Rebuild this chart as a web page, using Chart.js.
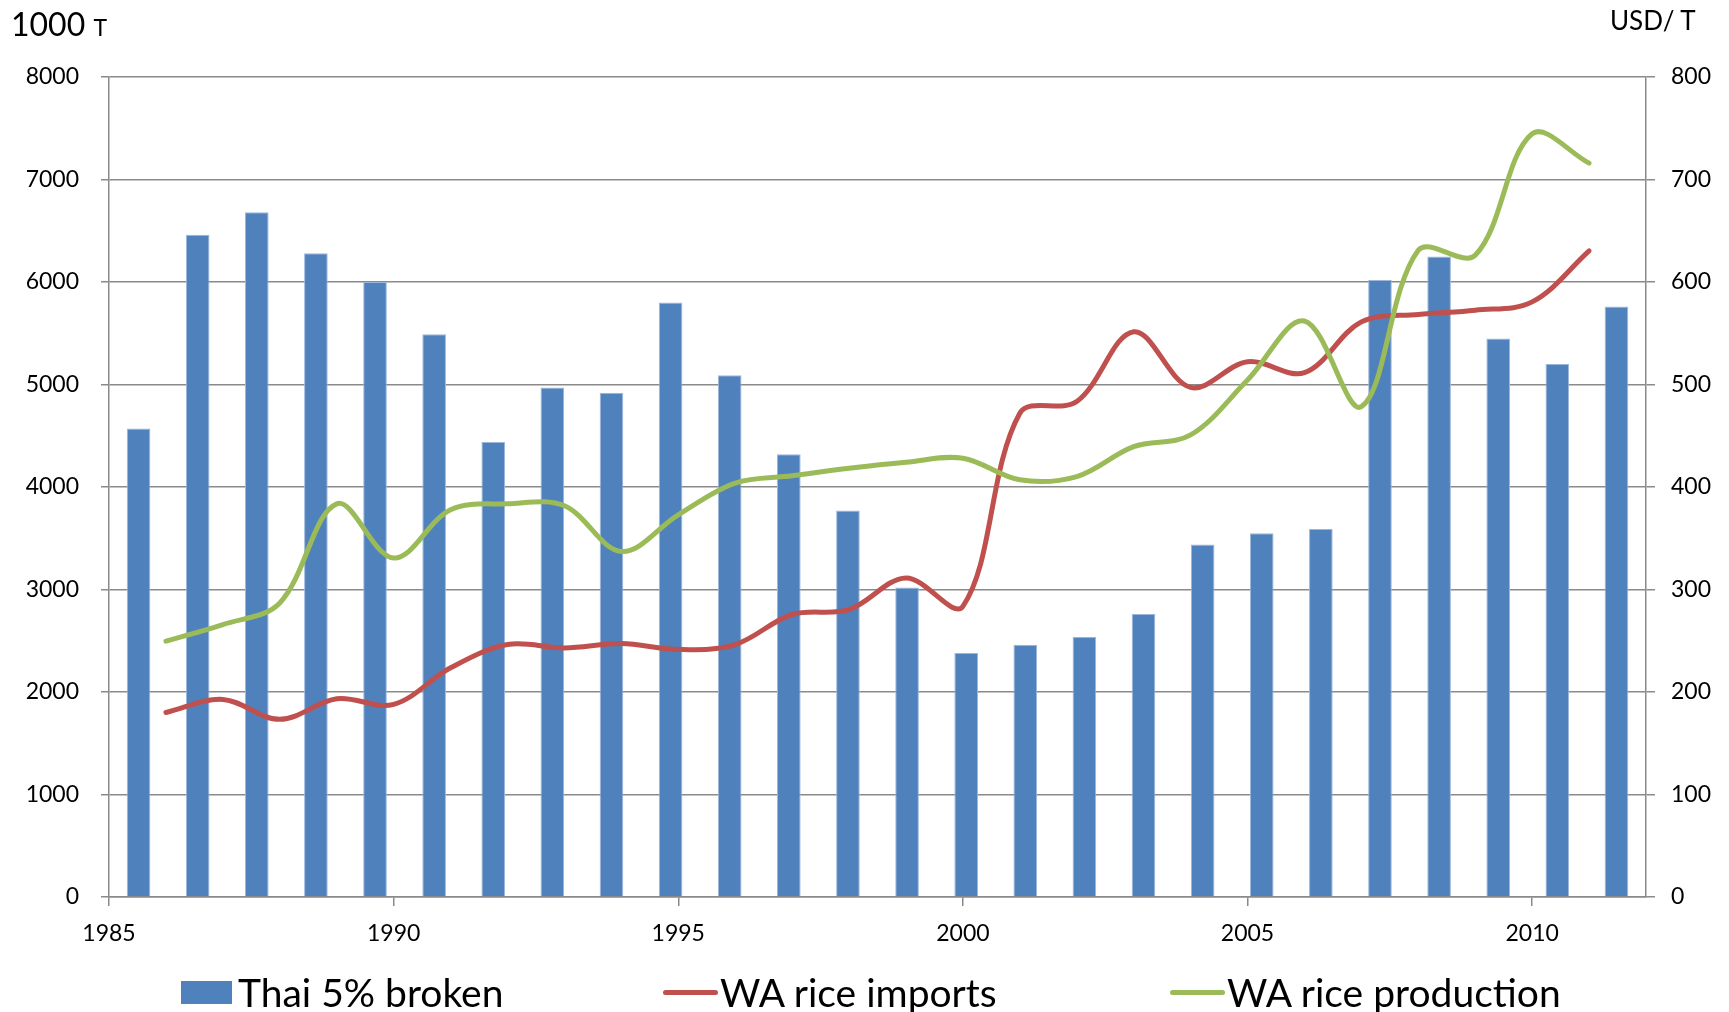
<!DOCTYPE html>
<html>
<head>
<meta charset="utf-8">
<title>WA rice</title>
<script src="https://cdn.jsdelivr.net/npm/chart.js@4.4.1/dist/chart.umd.min.js"></script>
<style>
  html, body { margin: 0; padding: 0; background: #fff; }
  #wrap { position: relative; width: 1729px; height: 1012px; font-family: Lato, sans-serif; color: #000; }
  #wrap canvas { position: absolute; left: 0; top: 0; }
  .lbl { position: absolute; line-height: 1; white-space: nowrap; }
  .leg { position: absolute; top: 972px; height: 40px; display: flex; align-items: center; font-size: 39px; white-space: nowrap; }
  .sw-box { width: 51px; height: 23px; background: #4F81BD; margin-right: 6px; }
  .sw-line { width: 55px; height: 5px; border-radius: 3px; margin-right: 2px; }
</style>
</head>
<body>
<div id="wrap">
  <canvas id="chart" width="1729" height="1012"></canvas>
  <div class="lbl" style="left:11px; top:8px; font-size:32px;">1000 <span style="font-size:23px;">T</span></div>
  <div class="lbl" style="left:1610px; top:7px; font-size:26px;">USD/ T</div>
  <div class="leg" style="left:181px;"><div class="sw-box"></div><span>Thai 5% broken</span></div>
  <div class="leg" style="left:663px;"><div class="sw-line" style="background:#C0504D"></div><span>WA rice imports</span></div>
  <div class="leg" style="left:1170px;"><div class="sw-line" style="background:#9BBB59"></div><span>WA rice production</span></div>
</div>
<script>
/* ---- data ---- */
const years = [1986,1987,1988,1989,1990,1991,1992,1993,1994,1995,1996,1997,1998,
               1999,2000,2001,2002,2003,2004,2005,2006,2007,2008,2009,2010,2011];

// Thai 5% broken (USD/T, right axis)
const thaiBroken = [457,646,668,628,600,549,444,497,492,580,509,432,377,
                    302,238,246,254,276,344,355,359,602,625,545,520,576];

// WA rice imports (1000 T, left axis)
const waImports = [1800,1928,1733,1934,1879,2236,2463,2430,2472,2414,2463,2756,2804,
                   3113,2836,4720,4834,5515,4972,5222,5115,5611,5683,5725,5806,6303];

// WA rice production (1000 T, left axis)
const waProduction = [2496,2658,2869,3836,3307,3778,3836,3817,3371,3729,4038,4109,4183,
                      4242,4281,4070,4102,4394,4508,5044,5620,4784,6310,6261,7446,7160];

const xTickYears = [1985,1990,1995,2000,2005,2010];

/* ---- helpers ---- */
const GRID = '#8a8a8a';
const toXY = (arr) => arr.map((v,i) => ({ x: years[i], y: v }));
const fixWidth = (w) => (scale) => { scale.width = w; };

const ctx = document.getElementById('chart').getContext('2d');
Chart.defaults.font.family = 'Lato, sans-serif';
Chart.defaults.color = '#000';

new Chart(ctx, {
  data: {
    labels: years.map(String),
    datasets: [
      {
        type: 'line', label: 'WA rice production', data: toXY(waProduction),
        xAxisID: 'x', yAxisID: 'y', order: 0,
        borderColor: '#9BBB59', borderWidth: 5, pointRadius: 0,
        tension: 0.35, borderCapStyle: 'round', fill: false
      },
      {
        type: 'line', label: 'WA rice imports', data: toXY(waImports),
        xAxisID: 'x', yAxisID: 'y', order: 1,
        borderColor: '#C0504D', borderWidth: 5, pointRadius: 0,
        tension: 0.35, borderCapStyle: 'round', fill: false
      },
      {
        type: 'bar', label: 'Thai 5% broken', data: thaiBroken,
        xAxisID: 'xb', yAxisID: 'y1', order: 2, grouped: false,
        backgroundColor: '#4F81BD', borderColor: '#9db7db',
        borderWidth: 1, borderSkipped: 'bottom',
        categoryPercentage: 1, barPercentage: 0.4
      }
    ]
  },
  options: {
    responsive: false,
    animation: false,
    layout: { padding: { top: 77, left: 0, right: 0, bottom: 65 } },
    plugins: { legend: { display: false }, tooltip: { enabled: false } },
    scales: {
      xb: { type: 'category', display: false, offset: true },
      x: {
        type: 'linear', position: 'bottom', min: 1985, max: 2012, offset: false,
        afterBuildTicks: (axis) => { axis.ticks = xTickYears.map(v => ({ value: v })); },
        afterFit: (s) => { s.height = 50; },
        ticks: { callback: (v) => String(v), font: { size: 23 }, padding: 14, maxRotation: 0 },
        grid: { drawOnChartArea: false, drawTicks: true, tickLength: 9, color: GRID, lineWidth: 1.5, offset: false },
        border: { display: true, color: GRID, width: 1.5 }
      },
      y: {
        position: 'left', min: 0, max: 8000,
        afterFit: fixWidth(109),
        ticks: { stepSize: 1000, callback: (v) => String(v), font: { size: 23 }, padding: 22 },
        grid: { color: GRID, lineWidth: 1.5, tickLength: 8 },
        border: { display: true, color: GRID, width: 1.5 }
      },
      y1: {
        position: 'right', min: 0, max: 800,
        afterFit: fixWidth(83),
        ticks: { stepSize: 100, callback: (v) => String(v), font: { size: 23 }, padding: 16 },
        grid: { drawOnChartArea: false, color: GRID, lineWidth: 1.5, tickLength: 9 },
        border: { display: true, color: GRID, width: 1.5 }
      }
    }
  }
});
</script>
</body>
</html>
